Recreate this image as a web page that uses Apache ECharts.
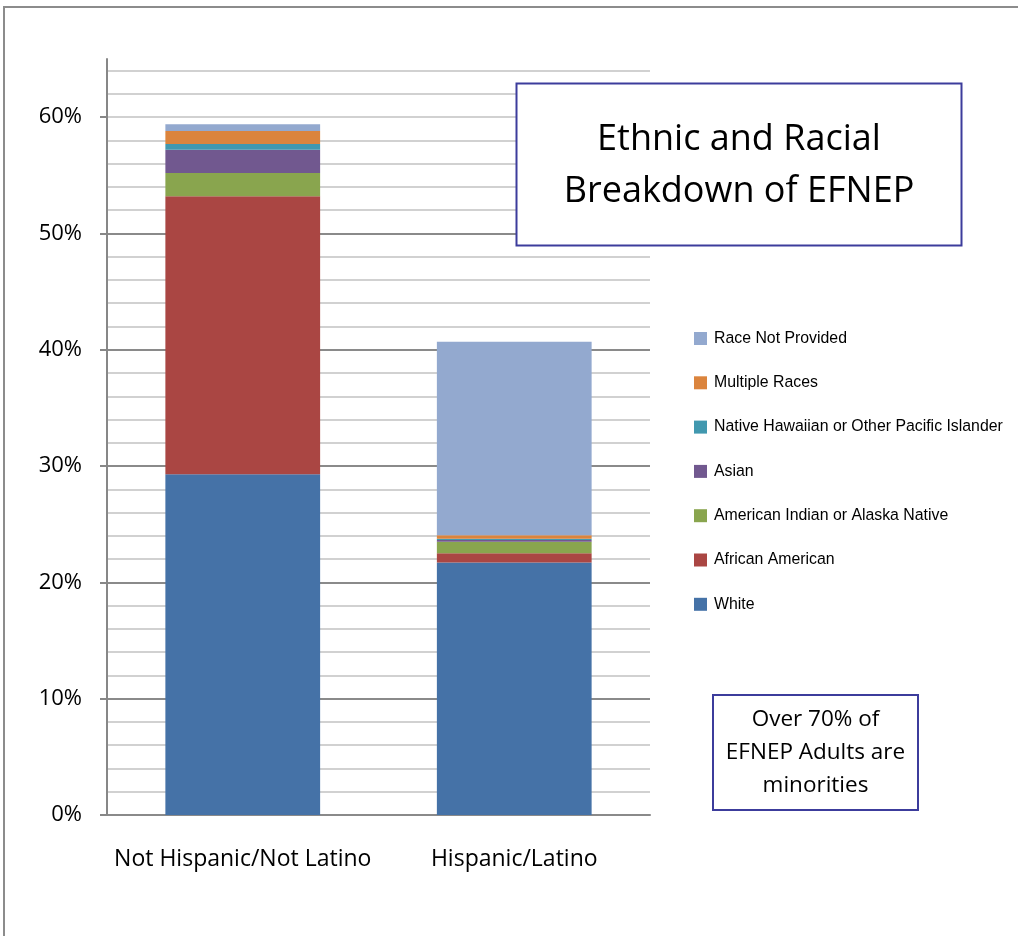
<!DOCTYPE html>
<html>
<head>
<meta charset="utf-8">
<script src="https://cdn.jsdelivr.net/npm/echarts@6/dist/echarts.min.js"></script>
<style>
html,body{margin:0;padding:0;background:#fff;}
#chart{width:1018px;height:936px;}
</style>
</head>
<body>
<div id="chart"></div>
<script>
// ---- data ----
const categories = ['Not Hispanic/Not Latino', 'Hispanic/Latino'];
const white = [29.3, 21.7];
const africanAmerican = [23.9, 0.8];
const americanIndian = [2.0, 1.0];
const asian = [2.0, 0.15];
const nativeHawaiian = [0.5, 0.1];
const multipleRaces = [1.1, 0.3];
const raceNotProvided = [0.6, 16.65];
const yTickValues = [0, 10, 20, 30, 40, 50, 60];
const yMax = 65;
const seriesNames = ['White', 'African American', 'American Indian or Alaska Native', 'Asian',
  'Native Hawaiian or Other Pacific Islander', 'Multiple Races', 'Race Not Provided'];
const seriesData = [white, africanAmerican, americanIndian, asian, nativeHawaiian, multipleRaces, raceNotProvided];
const colors = ['#4572A7', '#AA4643', '#89A54E', '#71588F', '#4198AF', '#DB843D', '#93A9CF'];

// pick a condensed font for the legend if available
function hasFont(name) {
  const c = document.createElement('canvas').getContext('2d');
  const s = 'Native Hawaiian or Other Pacific Islander';
  c.font = '100px monospace'; const a = c.measureText(s).width;
  c.font = '100px "' + name + '", monospace'; const b = c.measureText(s).width;
  return Math.abs(a - b) > 1;
}
function fitSize(family, text, target, maxSize) {
  const c = document.createElement('canvas').getContext('2d');
  c.font = '100px ' + family;
  const w = c.measureText(text).width;
  return Math.min(maxSize, target * 100 / w);
}
const legendFamily = hasFont('Liberation Sans Narrow') ? '"Liberation Sans Narrow"' : '"Liberation Sans"';
const legendSize = fitSize(legendFamily, 'Native Hawaiian or Other Pacific Islander', 289, 19.5);

const FONT = '"Open Sans", "Liberation Sans", sans-serif';
const chart = echarts.init(document.getElementById('chart'), null, {renderer: 'canvas'});

const series = seriesNames.map((n, i) => ({
  name: n,
  type: 'bar',
  stack: 'total',
  yAxisIndex: 0,
  barWidth: '57%',
  data: seriesData[i],
  itemStyle: {color: colors[i]},
  emphasis: {disabled: true}
}));

chart.setOption({
  animation: false,
  grid: {left: 107, right: 368, top: 59, bottom: 121, containLabel: false},
  xAxis: {
    type: 'category',
    data: categories,
    axisLine: {lineStyle: {color: '#878787', width: 2}},
    axisTick: {show: false},
    axisLabel: {color: '#000', fontFamily: FONT, fontSize: 23, margin: 33, interval: 0, hideOverlap: false}
  },
  yAxis: [{
    type: 'value', min: 0, max: yMax, interval: 10, z: 2,
    axisLine: {show: true, lineStyle: {color: '#878787', width: 2}},
    axisTick: {show: true, length: 7, inside: false, customValues: yTickValues, lineStyle: {color: '#878787', width: 2}},
    axisLabel: {color: '#000', fontFamily: FONT, fontSize: 22, margin: 25, customValues: yTickValues,
      formatter: v => v + '%'},
    splitLine: {show: true, showMaxLine: false, lineStyle: {color: '#8a8a8a', width: 2}}
  }, {
    type: 'value', min: 0, max: yMax, interval: 2, position: 'left', z: 0,
    axisLine: {show: false}, axisTick: {show: false}, axisLabel: {show: false},
    splitLine: {show: true, showMaxLine: false, lineStyle: {color: '#c2c2c2', width: 1.5}}
  }],
  legend: {
    orient: 'vertical',
    left: 694, top: 329, padding: 0,
    itemWidth: 13, itemHeight: 13, itemGap: 25.3,
    icon: 'rect',
    data: seriesNames.slice().reverse(),
    textStyle: {color: '#000', fontFamily: legendFamily, fontSize: legendSize, lineHeight: 19, padding: [0, 0, 0, 2]},
    selectedMode: false
  },
  series: series,
  graphic: [
    {type: 'rect', silent: true, z: 0, shape: {x: 4, y: 7, width: 1200, height: 1100},
      style: {fill: 'none', stroke: '#8c8c8c', lineWidth: 2}},
    {type: 'rect', silent: true, z: 10, shape: {x: 516.5, y: 83.5, width: 445, height: 162},
      style: {fill: '#fff', stroke: '#3c3c9c', lineWidth: 2}},
    {type: 'text', silent: true, z: 11, x: 739, y: 166,
      style: {text: 'Ethnic and Racial\nBreakdown of EFNEP', fill: '#000', font: '36px ' + FONT,
        lineHeight: 52, align: 'center', verticalAlign: 'middle'}},
    {type: 'rect', silent: true, z: 10, shape: {x: 713, y: 695, width: 205, height: 115},
      style: {fill: '#fff', stroke: '#3c3c9c', lineWidth: 2}},
    {type: 'text', silent: true, z: 11, x: 815.5, y: 753,
      style: {text: 'Over 70% of\nEFNEP Adults are\nminorities', fill: '#000', font: '22.5px ' + FONT,
        lineHeight: 33, align: 'center', verticalAlign: 'middle'}}
  ]
});
</script>
</body>
</html>
